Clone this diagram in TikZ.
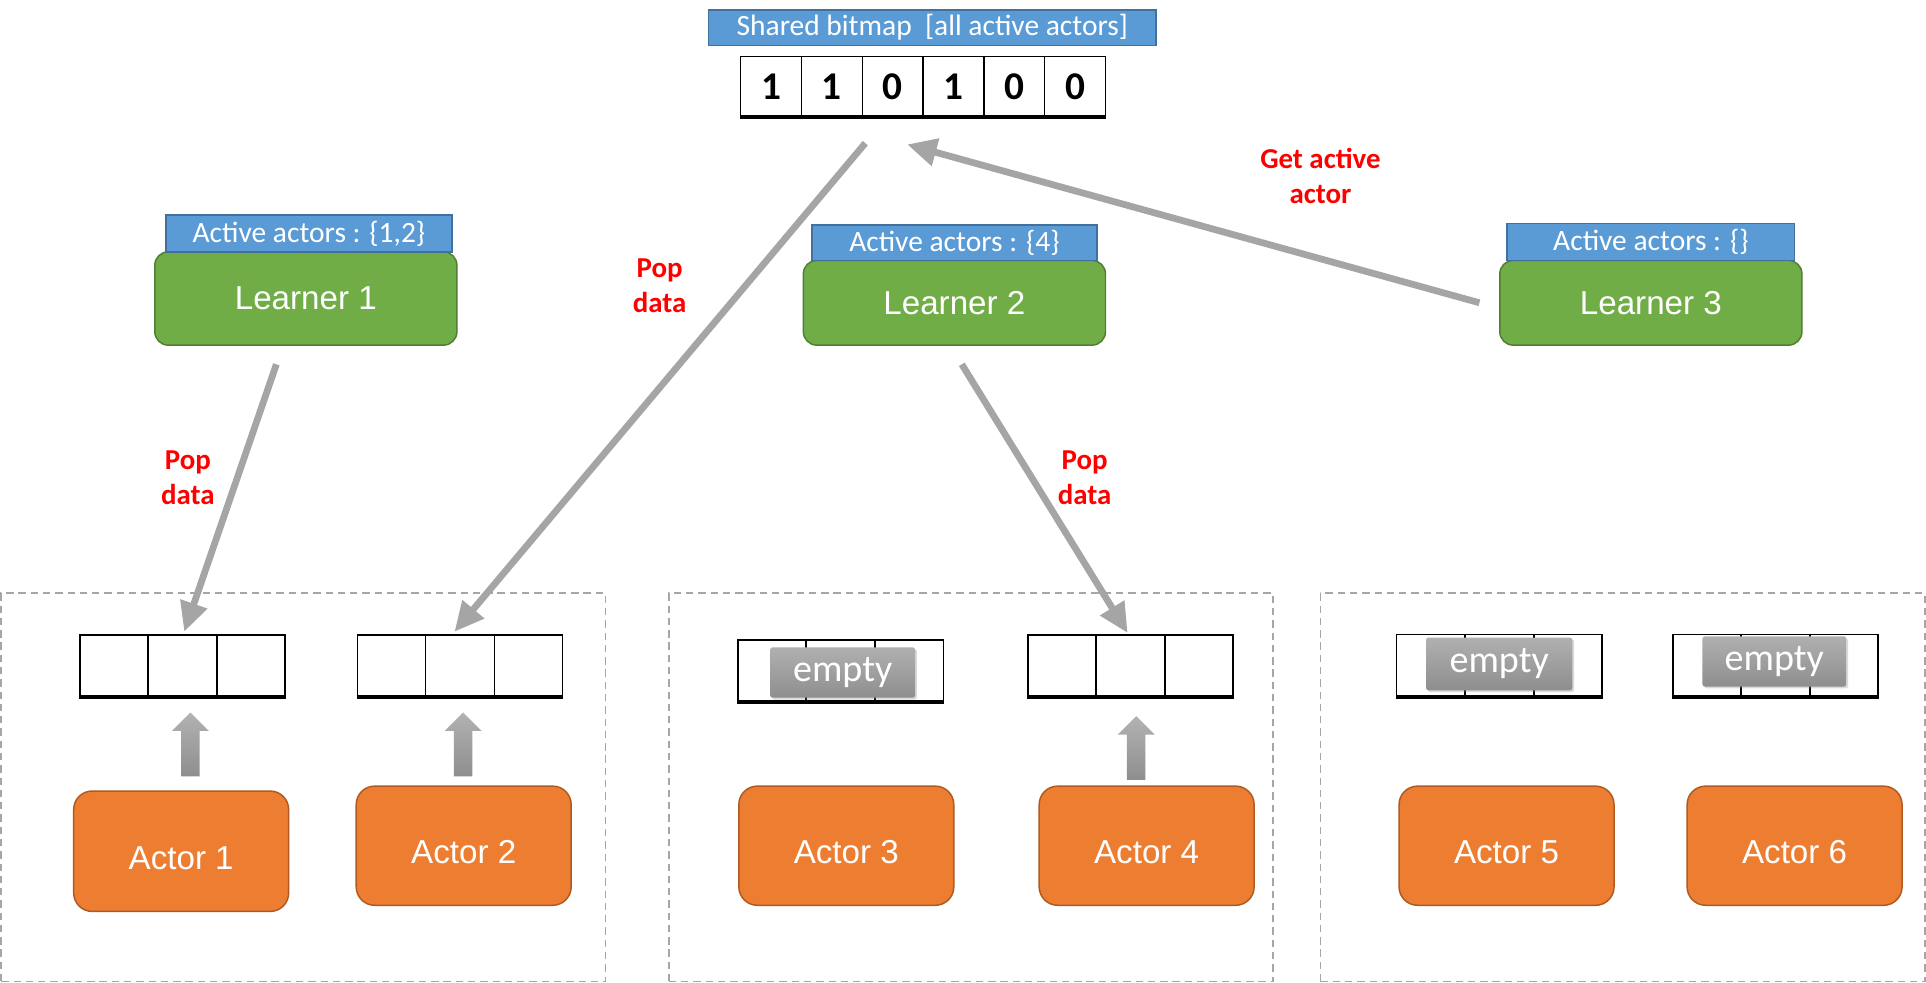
\documentclass[tikz,border=0pt]{standalone}
\usepackage{fontspec}
\setmainfont{Liberation Sans}
\newfontfamily\calib{Carlito}
\usetikzlibrary{arrows.meta,calc,shadows}

\definecolor{tagblue}{HTML}{5B9BD5}
\definecolor{tagedge}{HTML}{41719C}
\definecolor{learnfill}{HTML}{70AD47}
\definecolor{learnedge}{HTML}{507E32}
\definecolor{actorfill}{HTML}{ED7D31}
\definecolor{actoredge}{HTML}{AE5A21}
\definecolor{flowgray}{HTML}{A5A5A5}
\definecolor{framegray}{HTML}{A6A6A6}
\definecolor{emptytop}{HTML}{B0B0B0}
\definecolor{emptybot}{HTML}{8E8E8E}
\definecolor{pushtop}{HTML}{B2B2B2}
\definecolor{pushbot}{HTML}{8E8E8E}

\begin{document}
\begin{tikzpicture}[x=1pt,y=-1pt,
  tag/.style={draw=tagedge, line width=1.2pt, fill=tagblue, text=white,
    font=\calib\fontsize{24}{28}\selectfont, inner sep=0pt},
  learner/.style={draw=learnedge, line width=1.2pt, fill=learnfill,
    rounded corners=11pt, text=white, font=\fontsize{27}{32}\selectfont,
    minimum width=246pt},
  actor/.style={draw=actoredge, line width=1.2pt, fill=actorfill,
    rounded corners=15pt, text=white, font=\fontsize{27}{32}\selectfont,
    minimum width=175pt, minimum height=97pt, text height=29pt, text depth=0pt},
  bitcell/.style={draw=black, line width=1.1pt, minimum width=49.5pt,
    minimum height=49pt, inner sep=0pt, font=\calib\bfseries\fontsize{32}{34}\selectfont},
  queue/.style={draw=black, line width=1.4pt, minimum width=167pt,
    minimum height=50pt, inner sep=0pt},
  emptytag/.style={rounded corners=2pt, top color=emptytop, bottom color=emptybot,
    text=white, font=\calib\fontsize{31}{33}\selectfont, minimum height=41pt,
    minimum width=118pt, inner sep=0pt,
    drop shadow={opacity=0.3, shadow xshift=1.5pt, shadow yshift=-1.5pt}},
  push/.style={top color=pushtop, bottom color=pushbot, draw=none},
  groupframe/.style={draw=framegray, line width=1.3pt, dash pattern=on 6pt off 4pt,
    minimum width=492pt, minimum height=316pt, inner sep=0pt},
  note/.style={text=red, align=center, font=\calib\bfseries\fontsize{23.5}{28.5}\selectfont},
  flow/.style={draw=flowgray, line width=5.5pt,
    -{Triangle[length=24pt,width=22pt]}},
]
\useasboundingbox (0,0) rectangle (1568,800);

% dashed groups of actors
\node[groupframe] (g1) at (247,641) {};
\node[groupframe] (g2) at (790.5,641) {};
\node[groupframe] (g3) at (1321,641) {};

% shared bitmap
\node[tag, minimum width=364pt, minimum height=29pt] (bmtag) at (759,22.5)
  {Shared bitmap\ \ [all active actors]};
\foreach \d [count=\i] in {1,1,0,1,0,0}
  \node[bitcell] (b\i) at (603+49.5*\i-24.75,70.5) {\d};
\draw[line width=3.2pt] (b1.south west) -- (b6.south east);

% learners with their active actor tags
\node[learner, minimum height=76pt] (l1) at (249,243) {Learner 1};
\node[tag, minimum width=233pt, minimum height=30pt] (t1) at (251.5,190) {Active actors : \{1,2\}};
\node[learner, minimum height=69pt] (l2) at (777,246.5) {Learner 2};
\node[tag, minimum width=232pt, minimum height=29pt] (t2) at (777,197.5) {Active actors : \{4\}};
\node[learner, minimum height=69pt] (l3) at (1344,246.5) {Learner 3};
\node[tag, minimum width=234pt, minimum height=30pt] (t3) at (1344,197) {Active actors : \{\}};

% actor queues
\node[queue] (q1) at (148.5,542) {};
\node[queue] (q2) at (374.5,542) {};
\node[queue] (q3) at (684.5,546) {};
\node[queue] (q4) at (920.5,542) {};
\node[queue] (q5) at (1220.5,541.5) {};
\node[queue] (q6) at (1445.5,541.5) {};
\foreach \q in {q1,q2,q3,q4,q5,q6}{
  \draw[line width=1.4pt] ($(\q.north west)!1/3!(\q.north east)$) -- ($(\q.south west)!1/3!(\q.south east)$);
  \draw[line width=1.4pt] ($(\q.north west)!2/3!(\q.north east)$) -- ($(\q.south west)!2/3!(\q.south east)$);
  \draw[line width=3pt] (\q.south west) -- (\q.south east);
}
\node[emptytag] (e3) at (686,547.5) {empty};
\node[emptytag, minimum height=43pt, minimum width=119pt] (e5) at (1220.5,540.5) {empty};
\node[emptytag, minimum width=117pt] (e6) at (1444.5,538.5) {empty};

% actors
\node[actor, minimum height=98pt] (a1) at (147.5,693) {Actor 1};
\node[actor] (a2) at (377.5,688.5) {Actor 2};
\node[actor] (a3) at (689,688.5) {Actor 3};
\node[actor] (a4) at (933.5,688.5) {Actor 4};
\node[actor] (a5) at (1226.5,688.5) {Actor 5};
\node[actor] (a6) at (1461,688.5) {Actor 6};

% block arrows: actors pushing into their queues
\coordinate (p1) at (155,632);
\coordinate (p2) at (377,632);
\coordinate (p4) at (925,635);
\foreach \p in {p1,p2,p4}
  \shade[push] ($(\p)+(-7.5,0)$) -- ($(\p)+(-7.5,-37)$) -- ($(\p)+(-15,-37)$)
    -- ($(\p)+(0,-52)$) -- ($(\p)+(15,-37)$) -- ($(\p)+(7.5,-37)$)
    -- ($(\p)+(7.5,0)$) -- cycle;

% data flow
\draw[flow] ($(l1.south)+(-24,15)$) -- ($(q1.north)+(1.5,-2)$);
\draw[flow] ($(b3.south west)+(3,21)$) -- ($(q2.north)+(-4.5,-2)$);
\draw[flow] ($(l2.south)+(6,15)$) -- ($(q4.north)+(-2.5,-1)$);
\draw[flow] ($(l3.west)+(-16,0)$) -- ($(b3.south east)+(-13.5,22)$);

% flow labels
\node[note] (n1) at (153,389) {Pop\\data};
\node[note] (n2) at (537,233) {Pop\\data};
\node[note] (n3) at (883,389) {Pop\\data};
\node[note] (n4) at (1075,143) {Get active\\actor};
\end{tikzpicture}
\end{document}
